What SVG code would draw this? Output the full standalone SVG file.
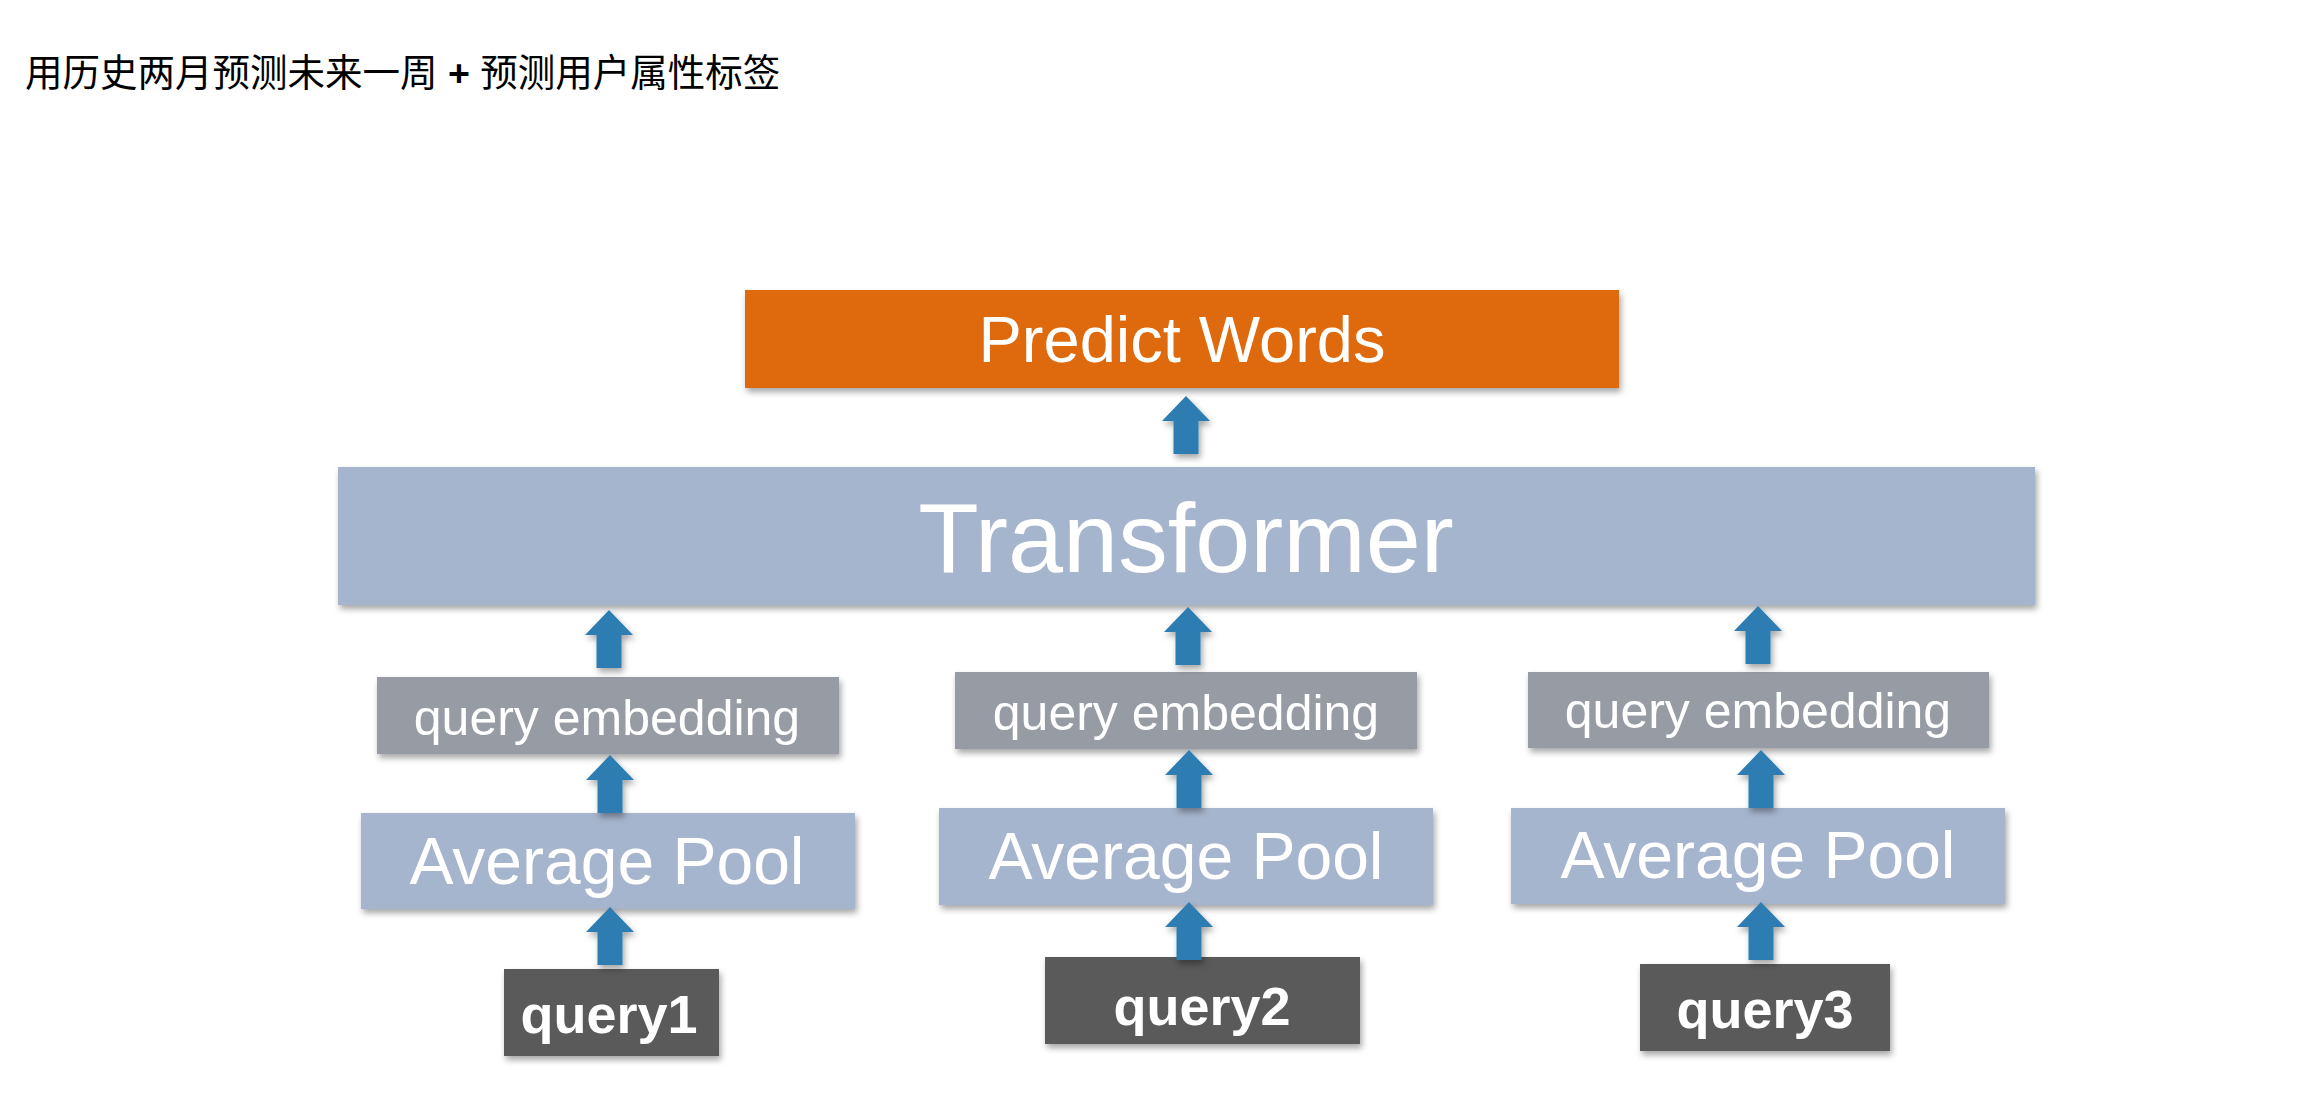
<svg xmlns="http://www.w3.org/2000/svg" xmlns:xlink="http://www.w3.org/1999/xlink" width="2312" height="1093" viewBox="0 0 2312 1093">
<style>
.lbl{font-family:"Liberation Sans",Arial,sans-serif;fill:#ffffff;text-anchor:middle}
.bold{font-weight:bold}
.title{font-family:"Noto Sans CJK SC","Noto Sans",sans-serif;font-size:37.5px;fill:#000000}
.pred{fill:#DE6A10}
.blue{fill:#A6B5CE}
.emb{fill:#979BA3}
.q{fill:#5A5A5A}
.arrow{fill:#2E7DB2}
</style>
<defs>
<filter id="sh" x="-5%" y="-10%" width="110%" height="130%">
<feDropShadow dx="2" dy="4" stdDeviation="3" flood-color="#000" flood-opacity="0.35"/>
</filter>
<path id="arr" d="M0,0 L24,25 L12.5,25 L12.5,58 L-12.5,58 L-12.5,25 L-24,25 Z"/>
</defs>
<rect width="2312" height="1093" fill="#ffffff"/>
<text class="title" x="25" y="86">用历史两月预测未来一周<tspan font-family="Liberation Sans,Arial,sans-serif" font-weight="bold"> + </tspan>预测用户属性标签</text>

<g id="predict-words">
<rect class="pred" x="745" y="290" width="874" height="98" filter="url(#sh)"/>
<text class="lbl" x="1182" y="362" font-size="65">Predict Words</text>
</g>
<g id="transformer">
<rect class="blue" x="338" y="467" width="1697" height="138" filter="url(#sh)"/>
<text class="lbl" x="1186" y="572" font-size="99">Transformer</text>
</g>

<g id="emb1">
<rect class="emb" x="377" y="677" width="462" height="77" filter="url(#sh)"/>
<text class="lbl" x="607" y="735" font-size="50">query embedding</text>
</g>
<g id="pool1">
<rect class="blue" x="361" y="813" width="494" height="96" filter="url(#sh)"/>
<text class="lbl" x="607" y="884" font-size="66">Average Pool</text>
</g>
<g id="query1">
<rect class="q" x="504" y="969" width="215" height="87" filter="url(#sh)"/>
<text class="lbl bold" x="609" y="1033" font-size="54">query1</text>
</g>

<g id="emb2">
<rect class="emb" x="955" y="672" width="462" height="77" filter="url(#sh)"/>
<text class="lbl" x="1186" y="730" font-size="50">query embedding</text>
</g>
<g id="pool2">
<rect class="blue" x="939" y="808" width="494" height="97" filter="url(#sh)"/>
<text class="lbl" x="1186" y="879" font-size="66">Average Pool</text>
</g>
<g id="query2">
<rect class="q" x="1045" y="957" width="315" height="87" filter="url(#sh)"/>
<text class="lbl bold" x="1202" y="1025" font-size="54">query2</text>
</g>

<g id="emb3">
<rect class="emb" x="1528" y="672" width="461" height="76" filter="url(#sh)"/>
<text class="lbl" x="1758" y="728" font-size="50">query embedding</text>
</g>
<g id="pool3">
<rect class="blue" x="1511" y="808" width="494" height="96" filter="url(#sh)"/>
<text class="lbl" x="1758" y="878" font-size="66">Average Pool</text>
</g>
<g id="query3">
<rect class="q" x="1640" y="964" width="250" height="87" filter="url(#sh)"/>
<text class="lbl bold" x="1765" y="1028" font-size="54">query3</text>
</g>

<g id="connectors" class="arrow" filter="url(#sh)">
<use xlink:href="#arr" x="1186" y="396"/>
<use xlink:href="#arr" x="609" y="610"/>
<use xlink:href="#arr" x="1188" y="607"/>
<use xlink:href="#arr" x="1758" y="606"/>
<use xlink:href="#arr" x="610" y="755"/>
<use xlink:href="#arr" x="1189" y="750"/>
<use xlink:href="#arr" x="1761" y="750"/>
<use xlink:href="#arr" x="610" y="907"/>
<use xlink:href="#arr" x="1189" y="902"/>
<use xlink:href="#arr" x="1761" y="902"/>
</g>
</svg>
